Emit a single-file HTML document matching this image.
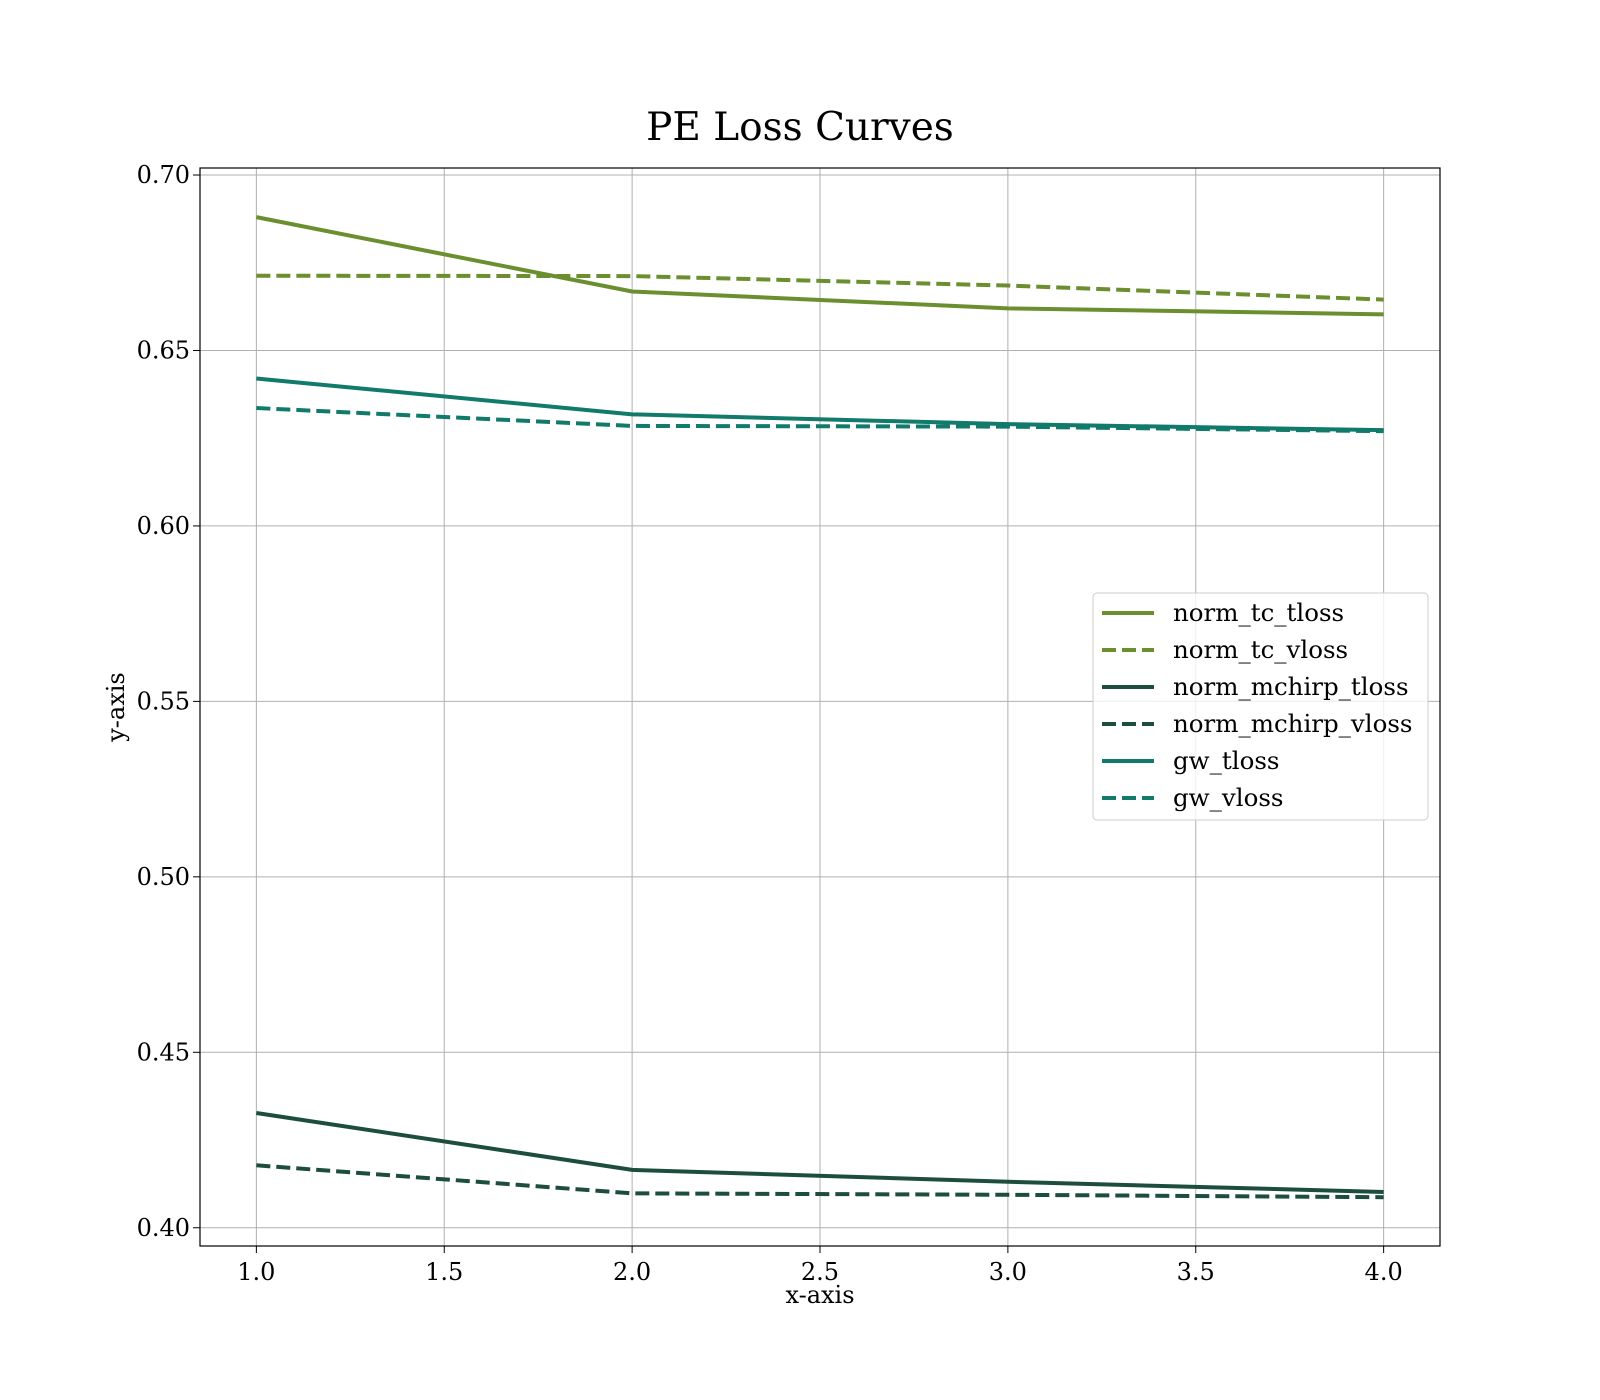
<!DOCTYPE html>
<html><head><meta charset="utf-8"><style>
body{margin:0;background:#fff}
svg{display:block;font-family:"DejaVu Serif","Liberation Serif",serif}
</style></head><body>
<svg id="chart" width="1600" height="1400" viewBox="0 0 1600 1400">
<rect width="1600" height="1400" fill="#fff"/>
<text x="800" y="140" text-anchor="middle" font-size="39">PE Loss Curves</text>
<g id="grid"></g>
<g id="lines"></g>
<rect x="200" y="168" width="1240" height="1078" fill="none" stroke="#000" stroke-width="1.2"/>
<g id="ticks"></g>
<text x="820" y="1303" text-anchor="middle" font-size="24">x-axis</text>
<text transform="translate(124,707) rotate(-90)" text-anchor="middle" font-size="24">y-axis</text>
<g id="legend"></g>
</svg>
<script>
const xs=[1,2,3,4];
const seriesNames=["norm_tc_tloss","norm_tc_vloss","norm_mchirp_tloss","norm_mchirp_vloss","gw_tloss","gw_vloss"];
const normTcT=[0.688,0.6668,0.662,0.6603];
const normTcV=[0.6713,0.6712,0.6685,0.6645];
const mchirpT=[0.4327,0.4165,0.4131,0.4102];
const mchirpV=[0.4178,0.4098,0.4094,0.4087];
const gwT=[0.642,0.6318,0.629,0.6273];
const gwV=[0.6336,0.6285,0.6283,0.627];
const xTicks=[1.0,1.5,2.0,2.5,3.0,3.5,4.0];
const yTicks=[0.40,0.45,0.50,0.55,0.60,0.65,0.70];
const NS="http://www.w3.org/2000/svg";
const X=v=>200+(v-0.85)/(3.3)*1240;
const Y=v=>1246-(v-0.3948)/(0.702-0.3948)*1078;
function mk(t,a,p){const e=document.createElementNS(NS,t);for(const k in a)e.setAttribute(k,a[k]);p.appendChild(e);return e;}
const grid=document.getElementById('grid'),ticks=document.getElementById('ticks');
xTicks.forEach(v=>{
 const g=mk('line',{x1:X(v),x2:X(v),y1:168,y2:1246,stroke:'#b0b0b0','stroke-width':1},grid);
 
 
 mk('line',{x1:X(v),x2:X(v),y1:1246,y2:1253,stroke:'#000'},ticks);
 const t=mk('text',{x:X(v),y:1280,'text-anchor':'middle','font-size':24},ticks);t.textContent=v.toFixed(1);
 
 
});
yTicks.forEach(v=>{
 const g=mk('line',{x1:200,x2:1440,y1:Y(v),y2:Y(v),stroke:'#b0b0b0','stroke-width':1},grid);
 
 
 mk('line',{x1:193,x2:200,y1:Y(v),y2:Y(v),stroke:'#000'},ticks);
 const t=mk('text',{x:190,y:Y(v)+8,'text-anchor':'end','font-size':24},ticks);t.textContent=v.toFixed(2);
 
 
});
const cols=['#6b8e2f','#6b8e2f','#1d4d3e','#1d4d3e','#117a6b','#117a6b'];
const data=[normTcT,normTcV,mchirpT,mchirpV,gwT,gwV];
const lines=document.getElementById('lines');
data.forEach((d,i)=>{
 const p=mk('polyline',{points:d.map((v,j)=>X(xs[j])+','+Y(v)).join(' '),fill:'none',stroke:cols[i],'stroke-width':4,'stroke-dasharray':i%2?'14,6':'none'},lines);
 
 
});
const lg=document.getElementById('legend');
const box=mk('rect',{x:1093,y:593,width:335,height:227,rx:4,fill:'#fff','fill-opacity':0.8,stroke:'#ccc'},lg);


seriesNames.forEach((n,i)=>{
 const y=613+i*37;
 mk('line',{x1:1102,x2:1154,y1:y,y2:y,stroke:cols[i],'stroke-width':4,'stroke-dasharray':i%2?'14,6':'none'},lg);
 const t=mk('text',{x:1173,y:y+8,'font-size':24.5},lg);t.textContent=n;
 
 
});
</script>
</body></html>
